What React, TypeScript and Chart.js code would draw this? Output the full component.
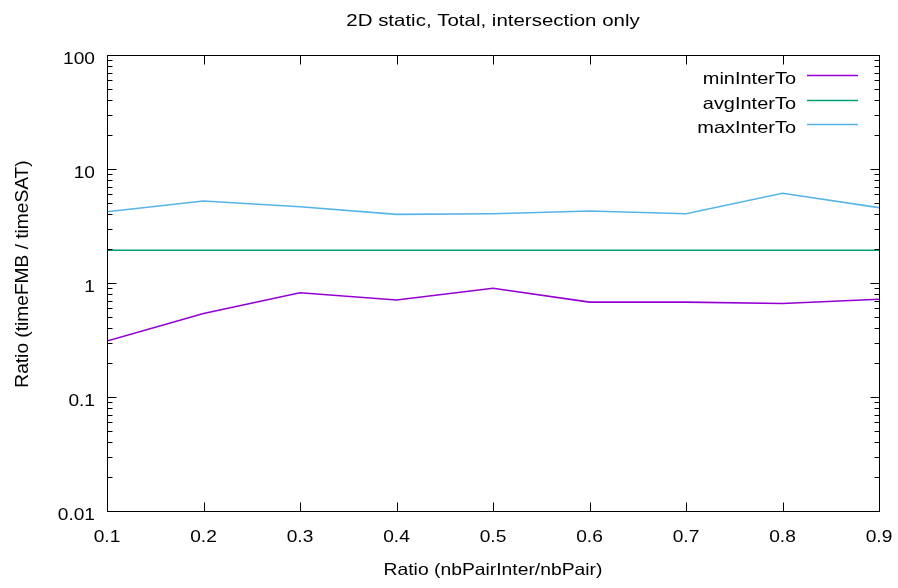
import React, { useEffect, useRef } from "react";
import { Chart, registerables } from "chart.js";

Chart.register(...registerables);

const chartTitle = "2D static, Total, intersection only";
const xAxisTitle = "Ratio (nbPairInter/nbPair)";
const yAxisTitle = "Ratio (timeFMB / timeSAT)";

const ratios = [0.1, 0.2, 0.3, 0.4, 0.5, 0.6, 0.7, 0.8, 0.9];
const minInterTo = [0.31, 0.54, 0.82, 0.71, 0.9, 0.68, 0.68, 0.66, 0.72];
const avgInterTo = [1.94, 1.94, 1.94, 1.94, 1.94, 1.94, 1.94, 1.94, 1.94];
const maxInterTo = [4.22, 5.24, 4.67, 4.0, 4.05, 4.28, 4.05, 6.12, 4.58];

const seriesNames = ["minInterTo", "avgInterTo", "maxInterTo"];
const seriesColors = ["#9400d3", "#009e73", "#56b4e9"];

const xTicks = [0.1, 0.2, 0.3, 0.4, 0.5, 0.6, 0.7, 0.8, 0.9];
const xTickLabels = ["0.1", "0.2", "0.3", "0.4", "0.5", "0.6", "0.7", "0.8", "0.9"];
const yTicks = [0.01, 0.1, 1, 10, 100];
const yTickLabels = ["0.01", "0.1", "1", "10", "100"];

const FONT = "'Liberation Sans', Arial, sans-serif";
const FS = 16.5;

// draw horizontally-stretched text (reference output is wider than tall)
function stretchedText(ctx: any, text: string, x: number, y: number, sx: number, align: string) {
  ctx.save();
  ctx.translate(x, y);
  ctx.scale(sx, 1);
  ctx.textAlign = align;
  ctx.textBaseline = "alphabetic";
  ctx.fillText(text, 0, 0);
  ctx.restore();
}

const gnuplotPlugin = {
  id: "gnuplotFrame",
  afterDraw(chart: any) {
    const ctx = chart.ctx;
    const ca = chart.chartArea;
    const xs = chart.scales.x;
    const ys = chart.scales.y;
    ctx.save();
    ctx.strokeStyle = "#000";
    ctx.lineWidth = 1;
    const L = Math.round(ca.left) + 0.5;
    const R = Math.round(ca.right) + 0.5;
    const T = Math.round(ca.top) + 0.5;
    const B = Math.round(ca.bottom) + 0.5;
    ctx.beginPath();
    ctx.rect(L, T, R - L, B - T);
    xTicks.forEach((v) => {
      const px = Math.round(xs.getPixelForValue(v)) + 0.5;
      ctx.moveTo(px, B);
      ctx.lineTo(px, B - 9);
      ctx.moveTo(px, T);
      ctx.lineTo(px, T + 9);
    });
    for (let i = 0; i < yTicks.length; i++) {
      const d = yTicks[i];
      const maxK = i === yTicks.length - 1 ? 1 : 9;
      for (let k = 1; k <= maxK; k++) {
        const v = d * k;
        const py = Math.round(ys.getPixelForValue(v)) + 0.5;
        const len = k === 1 ? 9 : 5;
        ctx.moveTo(L, py);
        ctx.lineTo(L + len, py);
        ctx.moveTo(R, py);
        ctx.lineTo(R - len, py);
      }
    }
    ctx.stroke();

    ctx.fillStyle = "#000";
    ctx.font = `${FS}px ${FONT}`;

    // tick labels
    xTicks.forEach((v, i) => {
      stretchedText(ctx, xTickLabels[i], xs.getPixelForValue(v), ca.bottom + 31, 1.16, "center");
    });
    yTicks.forEach((v, i) => {
      stretchedText(ctx, yTickLabels[i], ca.left - 12, ys.getPixelForValue(v) + 9, 1.16, "right");
    });

    // title
    stretchedText(ctx, chartTitle, (ca.left + ca.right) / 2, 25.5, 1.24, "center");

    // x axis title
    stretchedText(ctx, xAxisTitle, (ca.left + ca.right) / 2, 575, 1.17, "center");

    // y axis title (rotated)
    ctx.save();
    ctx.translate(27.5, (ca.top + ca.bottom) / 2 - 9);
    ctx.rotate(-Math.PI / 2);
    ctx.font = `18.6px ${FONT}`;
    ctx.scale(1.03, 1);
    ctx.textAlign = "center";
    ctx.textBaseline = "alphabetic";
    ctx.fillText(yAxisTitle, 0, 0);
    ctx.restore();

    // legend (gnuplot style)
    const rowsY = [75, 100, 124];
    seriesNames.forEach((name, i) => {
      const y = rowsY[i];
      ctx.fillStyle = "#000";
      stretchedText(ctx, name, 796, y + 8.5, 1.21, "right");
      ctx.strokeStyle = seriesColors[i];
      ctx.lineWidth = 1.5;
      ctx.beginPath();
      ctx.moveTo(807, y + 0.5);
      ctx.lineTo(858, y + 0.5);
      ctx.stroke();
    });
    ctx.restore();
  },
};

export default function App() {
  const ref = useRef<HTMLCanvasElement | null>(null);

  useEffect(() => {
    document.body.style.margin = "0";
    const canvas = ref.current;
    if (!canvas) return;
    const chart = new Chart(canvas, {
      type: "line",
      data: {
        labels: ratios,
        datasets: [minInterTo, avgInterTo, maxInterTo].map((vals, i) => ({
          label: seriesNames[i],
          data: ratios.map((x, j) => ({ x, y: vals[j] })),
          borderColor: seriesColors[i],
          backgroundColor: seriesColors[i],
          borderWidth: 1.6,
          pointRadius: 0,
          tension: 0,
          fill: false,
        })),
      },
      options: {
        responsive: false,
        animation: false,
        devicePixelRatio: 1,
        layout: { padding: { top: 55, right: 19, left: 0, bottom: 0 } },
        plugins: {
          legend: { display: false },
          title: { display: false },
          tooltip: { enabled: false },
        },
        scales: {
          x: {
            type: "linear",
            min: 0.1,
            max: 0.9,
            grid: { display: false, drawTicks: false },
            border: { display: false },
            afterBuildTicks: (s: any) => {
              s.ticks = xTicks.map((v) => ({ value: v }));
            },
            afterFit: (s: any) => {
              s.height = 77;
              s.paddingLeft = 0;
              s.paddingRight = 0;
            },
            ticks: { display: false },
            title: { display: false, text: xAxisTitle },
          },
          y: {
            type: "logarithmic",
            min: 0.01,
            max: 100,
            grid: { display: false, drawTicks: false },
            border: { display: false },
            afterBuildTicks: (s: any) => {
              s.ticks = yTicks.map((v) => ({ value: v }));
            },
            afterFit: (s: any) => {
              s.width = 107;
              s.paddingTop = 0;
              s.paddingBottom = 0;
            },
            ticks: { display: false },
            title: { display: false, text: yAxisTitle },
          },
        },
      },
      plugins: [gnuplotPlugin],
    } as any);
    return () => chart.destroy();
  }, []);

  return (
    <div style={{ width: 898, height: 588, background: "#fff" }}>
      <canvas ref={ref} width={898} height={588} style={{ display: "block" }} />
    </div>
  );
}
